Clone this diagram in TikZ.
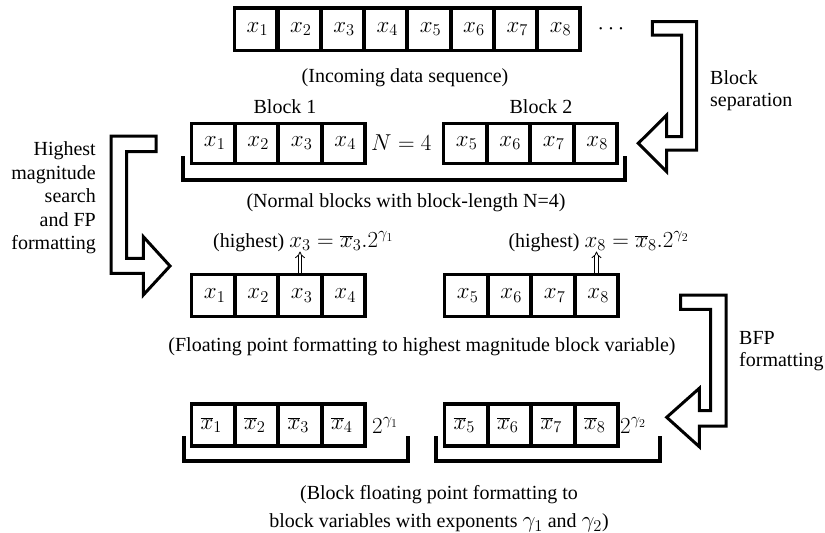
\RequirePackage{fix-cm}
\documentclass[tikz,border=0pt]{standalone}
\usepackage{fontspec}
\setmainfont{Liberation Serif}
\DeclareMathSizes{20}{23}{16.5}{12}
\usetikzlibrary{arrows.meta}
\tikzset{
  txt/.style={font=\fontsize{20}{24}\selectfont, inner sep=0pt},
  cell/.style={draw, line width=3.5pt, minimum width=43pt, minimum height=42pt,
               inner sep=0pt, font=\fontsize{20}{24}\selectfont},
  hollow/.style={draw, line width=3pt, line join=miter, fill=white},
  bracket/.style={draw, line width=3.5pt, line cap=rect},
  uparr/.style={line width=0.8pt, double distance=2.6pt, -{Implies}},
}
\begin{document}
\begin{tikzpicture}[x=1pt, y=-1pt]
\useasboundingbox (0,0) rectangle (825,533);

% ---- top row: incoming data sequence
\foreach \i in {1,...,8}
  \node[cell, minimum width=42.6pt, minimum height=42.5pt] (t\i) at ({255.75+43.3*(\i-1)}, 29) {\,$x_{\i}$};
\node[txt] (dots) at (611,29) {$\cdots$};
\node[txt] (inc) at (405,78) {(Incoming data sequence)};

% ---- block separation arrow
\draw[hollow] (652.3,21.7) -- (696.7,21.7) -- (696.7,150) -- (666.7,150) -- (666.7,171.7)
  -- (638.3,143.3) -- (666.7,115) -- (666.7,136.7) -- (681.7,136.7) -- (681.7,35) -- (652.3,35) -- cycle;
\node[txt, font=\fontsize{20}{22}\selectfont, align=left, anchor=west] (sep) at (710,91) {Block\\separation};

% ---- row 2: normal blocks
\node[txt] (bl1) at (285,107) {Block 1};
\node[txt] (bl2) at (541,107) {Block 2};
\foreach \i in {1,...,4}
  \node[cell, minimum height=40pt] (a\i) at ({213+43.5*(\i-1)}, 143.3) {\,$x_{\i}$};
\foreach \i in {5,...,8}
  \node[cell, minimum height=40pt] (a\i) at ({465+43.5*(\i-5)}, 143.3) {\,$x_{\i}$};
\node[txt, anchor=west] (nfour) at (371,143) {$N=4$};
\draw[bracket] (183,158) -- (183,180) -- (625,180) -- (625,158);
\node[txt] (normal) at (406,203) {(Normal blocks with block-length N=4)};

% ---- highest magnitude arrow
\draw[hollow] (111,136) -- (156,136) -- (156,151.7) -- (126.7,151.7) -- (126.7,258.3) -- (143.3,258.3)
  -- (143.3,236.7) -- (170,266) -- (143.3,295) -- (143.3,273.3) -- (111,273.3) -- cycle;
\node[txt, font=\fontsize{20}{23.5}\selectfont, align=right, anchor=east] (hms) at (96,198)
  {Highest\\magnitude\\search\\and FP\\formatting};

% ---- row 3: floating point formatting
\foreach \i in {1,...,4}
  \node[cell] (b\i) at ({213+43.5*(\i-1)}, 295.5) {\,$x_{\i}$};
\foreach \i in {5,...,8}
  \node[cell] (b\i) at ({466+43.5*(\i-5)}, 295.5) {\,$x_{\i}$};
\node[txt, anchor=base west] (hl1) at (213,247) {(highest) $x_3=\overline{x}_3.2^{\gamma_1}$};
\node[txt, anchor=base west] (hl2) at (508.3,247) {(highest) $x_8=\overline{x}_8.2^{\gamma_2}$};
\draw[uparr] (b3.north) -- (b3.north |- hl1.south);
\draw[uparr] (b8.north) -- (b8.north |- hl2.south);
\node[txt] (fp) at (422,347) {(Floating point formatting to highest magnitude block variable)};

% ---- BFP arrow
\draw[hollow] (680.7,295) -- (726,295) -- (726,426) -- (699.3,426) -- (699.3,446.7) -- (666.7,417.3)
  -- (699.3,388.3) -- (699.3,410.7) -- (710.7,410.7) -- (710.7,309.3) -- (680.7,309.3) -- cycle;
\node[txt, font=\fontsize{20}{22}\selectfont, align=left, anchor=west] (bfp) at (739,351) {BFP\\formatting};

% ---- row 4: block floating point
\foreach \i in {1,...,4}
  \node[cell] (c\i) at ({213+43.5*(\i-1)}, 425) {$\overline{x}_{\i}$\,};
\foreach \i in {5,...,8}
  \node[cell] (c\i) at ({466+43.5*(\i-5)}, 425) {$\overline{x}_{\i}$\,};
\node[txt, anchor=base west] (g1) at (372,433) {$2^{\gamma_1}$};
\node[txt, anchor=base west] (g2) at (620,433) {$2^{\gamma_2}$};
\draw[bracket] (184,438) -- (184,461) -- (408,461) -- (408,438);
\draw[bracket] (436,438) -- (436,461) -- (660,461) -- (660,438);
\node[txt, font=\fontsize{20}{28}\selectfont, align=center] (bfpcap) at (439,509)
  {(Block floating point formatting to\\block variables with exponents $\gamma_1$ and $\gamma_2$)};
\end{tikzpicture}
\end{document}
